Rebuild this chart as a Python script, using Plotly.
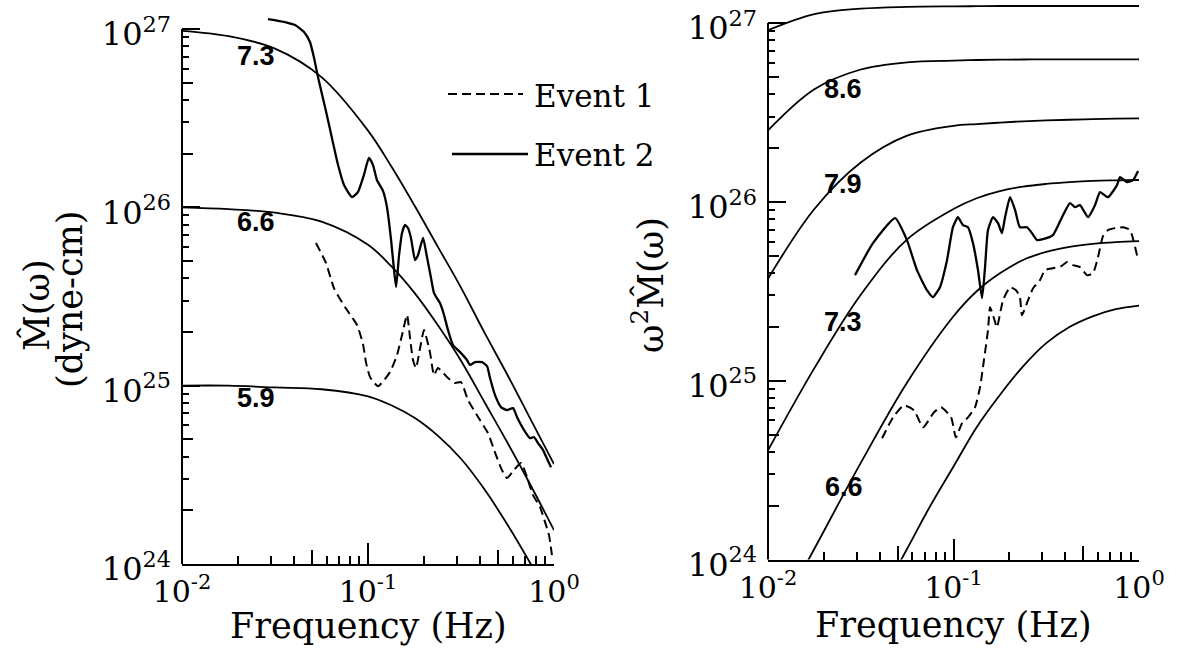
import numpy as np
import plotly.graph_objects as go

W, H = 1182, 649

# ------------------------------------------------------------------
# Data: log10 frequency (Hz) and log10 spectral level
# ------------------------------------------------------------------
grid = [-2.0, -1.75, -1.5, -1.25, -1.0, -0.875, -0.75, -0.625, -0.5, -0.375, -0.25, -0.125, 0.0]

# Left panel: model moment spectra M(w) in dyne-cm, one per magnitude
left_model_labels = ["7.3", "6.6", "5.9"]
left_m73 = [26.99, 26.96, 26.89, 26.73, 26.43, 26.23, 26.01, 25.78, 25.55, 25.30, 25.06, 24.81, 24.56]
left_m66 = [26.00, 25.99, 25.97, 25.92, 25.79, 25.67, 25.52, 25.34, 25.14, 24.91, 24.68, 24.44, 24.19]
left_m59 = [25.00, 25.00, 24.99, 24.98, 24.94, 24.89, 24.82, 24.72, 24.59, 24.42, 24.22, 24.00, 23.77]

# Left panel: observed moment spectra
ev1_left_logf = [-1.280, -1.226, -1.183, -1.124, -1.059, -1.027, -1.011, -0.989, -0.946, -0.882,
                 -0.844, -0.817, -0.790, -0.774, -0.758, -0.742, -0.720, -0.699, -0.667, -0.645,
                 -0.624, -0.570, -0.532, -0.500, -0.462, -0.398, -0.355, -0.312, -0.280, -0.253,
                 -0.215, -0.177, -0.145, -0.113, -0.075, -0.043, -0.027, -0.011]
ev1_left_logm = [25.800, 25.688, 25.547, 25.441, 25.340, 25.233, 25.132, 25.048, 24.997, 25.076,
                 25.172, 25.284, 25.396, 25.267, 25.144, 25.099, 25.211, 25.312, 25.188, 25.059,
                 25.099, 25.043, 25.015, 25.020, 24.919, 24.807, 24.734, 24.611, 24.527, 24.482,
                 24.527, 24.566, 24.487, 24.386, 24.319, 24.218, 24.162, 24.050]

ev2_left_logf = [-1.538, -1.446, -1.392, -1.344, -1.312, -1.290, -1.269, -1.231, -1.188, -1.161,
                 -1.129, -1.086, -1.054, -1.022, -0.995, -0.973, -0.952, -0.919, -0.898, -0.876,
                 -0.860, -0.849, -0.833, -0.817, -0.801, -0.785, -0.769, -0.747, -0.731, -0.704,
                 -0.683, -0.661, -0.645, -0.613, -0.591, -0.570, -0.543, -0.505, -0.468, -0.452,
                 -0.425, -0.387, -0.360, -0.344, -0.317, -0.285, -0.253, -0.220, -0.199, -0.161,
                 -0.129, -0.108, -0.086, -0.059, -0.027, -0.016]
ev2_left_logm = [27.056, 27.039, 27.022, 26.983, 26.927, 26.837, 26.731, 26.563, 26.361, 26.237,
                 26.125, 26.058, 26.086, 26.181, 26.277, 26.237, 26.153, 26.091, 26.001, 25.817,
                 25.648, 25.553, 25.732, 25.856, 25.901, 25.884, 25.828, 25.704, 25.732, 25.828,
                 25.721, 25.603, 25.519, 25.463, 25.396, 25.312, 25.228, 25.188, 25.144, 25.116,
                 25.132, 25.132, 25.110, 25.043, 24.947, 24.880, 24.863, 24.874, 24.824, 24.751,
                 24.706, 24.712, 24.678, 24.639, 24.566, 24.543]

# Right panel: model spectra w^2 M(w)
right_model_labels = ["8.6", "7.9", "7.3", "6.6"]
right_top = [26.96, 27.05, 27.08, 27.09, 27.093, 27.094, 27.095, 27.095, 27.095, 27.095, 27.095, 27.095, 27.095]
right_m86 = [26.40, 26.63, 26.74, 26.78, 26.79, 26.793, 26.795, 26.796, 26.797, 26.797, 26.797, 26.797, 26.797]
right_m79 = [25.57, 25.96, 26.22, 26.37, 26.425, 26.435, 26.443, 26.45, 26.455, 26.459, 26.462, 26.465, 26.467]
right_m73 = [24.61, 25.07, 25.48, 25.79, 25.96, 26.02, 26.06, 26.085, 26.10, 26.11, 26.117, 26.12, 26.122]
right_m66_logf = [-1.875, -1.75, -1.5, -1.25, -1.0, -0.875, -0.75, -0.625, -0.5, -0.375, -0.25, -0.125, 0.0]
right_m66 = [23.82, 24.06, 24.54, 24.99, 25.36, 25.50, 25.60, 25.675, 25.72, 25.748, 25.765, 25.775, 25.78]
right_m59_logf = [-1.375, -1.25, -1.125, -1.0, -0.875, -0.75, -0.625, -0.5, -0.375, -0.25, -0.125, 0.0]
right_m59 = [23.82, 24.06, 24.30, 24.52, 24.74, 24.92, 25.08, 25.21, 25.30, 25.36, 25.40, 25.42]

# Right panel: observed spectra
ev1_right_logf = [-1.385, -1.326, -1.267, -1.213, -1.164, -1.105, -1.067, -1.013, -0.987, -0.954,
                  -0.922, -0.884, -0.857, -0.836, -0.814, -0.803, -0.782, -0.766, -0.733, -0.695,
                  -0.663, -0.642, -0.631, -0.598, -0.571, -0.534, -0.507, -0.464, -0.420, -0.388,
                  -0.356, -0.318, -0.280, -0.248, -0.221, -0.194, -0.167, -0.129, -0.085, -0.048,
                  -0.021, -0.005]
ev1_right_logm = [24.678, 24.795, 24.862, 24.834, 24.739, 24.823, 24.851, 24.795, 24.683, 24.762,
                  24.795, 24.851, 24.963, 25.114, 25.282, 25.411, 25.349, 25.299, 25.450, 25.523,
                  25.506, 25.467, 25.366, 25.450, 25.517, 25.562, 25.618, 25.629, 25.640, 25.663,
                  25.646, 25.635, 25.590, 25.601, 25.691, 25.808, 25.842, 25.853, 25.858, 25.842,
                  25.747, 25.674]

ev2_right_logf = [-1.531, -1.434, -1.315, -1.251, -1.197, -1.143, -1.111, -1.073, -1.035, -1.003,
                  -0.976, -0.949, -0.922, -0.895, -0.868, -0.846, -0.830, -0.814, -0.787, -0.760,
                  -0.739, -0.722, -0.695, -0.668, -0.642, -0.604, -0.577, -0.550, -0.518, -0.464,
                  -0.415, -0.372, -0.345, -0.318, -0.275, -0.237, -0.210, -0.167, -0.119, -0.102,
                  -0.065, -0.032, -0.005]
ev2_right_logm = [25.590, 25.769, 25.909, 25.786, 25.618, 25.506, 25.467, 25.523, 25.674, 25.858,
                  25.914, 25.870, 25.858, 25.769, 25.618, 25.461, 25.635, 25.842, 25.914, 25.881,
                  25.825, 25.914, 26.026, 25.954, 25.858, 25.858, 25.825, 25.786, 25.791, 25.814,
                  25.914, 25.993, 25.970, 25.982, 25.914, 25.982, 26.054, 26.026, 26.093, 26.138,
                  26.110, 26.121, 26.172]

legend_names = ["Event 1", "Event 2"]

x_tick_vals = [0.01, 0.1, 1.0]
x_tick_text = ["10<sup>-2</sup>", "10<sup>-1</sup>", "10<sup>0</sup>"]
y_tick_vals = [1e24, 1e25, 1e26, 1e27]
y_tick_text = ["10<sup>24</sup>", "10<sup>25</sup>", "10<sup>26</sup>", "10<sup>27</sup>"]

# ------------------------------------------------------------------
# Styling / geometry (pixels on a 1182 x 649 page)
# ------------------------------------------------------------------
SERIF = "DejaVu Serif"
SANS = "Liberation Sans"
INK = "black"
MODEL_W = 1.8
DATA_W = 2.3
DASH = "9px,5px"

L_X0, L_X1, L_YBOT, L_Y27 = 182, 554, 564, 29
R_X0, R_X1, R_YBOT, R_Y27 = 768, 1139, 559.5, 23

l_ytop = 27 + L_Y27 / ((L_YBOT - L_Y27) / 3.0)
r_ytop = 27 + R_Y27 / ((R_YBOT - R_Y27) / 3.0)


def p(v):
    return 10 ** np.asarray(v, dtype=float)


fig = go.Figure()


def add_line(logf, logm, xa, ya, width, dash=None, smooth=1.0):
    fig.add_trace(go.Scatter(
        x=p(logf), y=p(logm), mode="lines", xaxis=xa, yaxis=ya,
        line=dict(color=INK, width=width, dash=dash, shape="spline", smoothing=smooth),
        showlegend=False, hoverinfo="skip"))


# left panel
for vals in (left_m73, left_m66, left_m59):
    add_line(grid, vals, "x", "y", MODEL_W)
add_line(ev1_left_logf, ev1_left_logm, "x", "y", DATA_W - 0.3, DASH, 0.5)
add_line(ev2_left_logf, ev2_left_logm, "x", "y", DATA_W, None, 0.5)

# right panel
for vals in (right_top, right_m86, right_m79, right_m73):
    add_line(grid, vals, "x2", "y2", MODEL_W)
add_line(right_m66_logf, right_m66, "x2", "y2", MODEL_W)
add_line(right_m59_logf, right_m59, "x2", "y2", MODEL_W)
add_line(ev1_right_logf, ev1_right_logm, "x2", "y2", DATA_W - 0.3, DASH, 0.5)
add_line(ev2_right_logf, ev2_right_logm, "x2", "y2", DATA_W, None, 0.5)

# empty traces so the overlay tick axes get drawn
fig.add_trace(go.Scatter(x=[], y=[], xaxis="x3", yaxis="y3", showlegend=False))
fig.add_trace(go.Scatter(x=[], y=[], xaxis="x4", yaxis="y4", showlegend=False))

minor_x = [k * 10.0 ** e for e in (-2, -1) for k in range(2, 10)]
minor_y = [k * 10.0 ** e for e in (24, 25, 26) for k in range(2, 10)]
mid_x = [0.05, 0.5]
mid_y = [k * 10.0 ** e for e in (24, 25, 26) for k in (2, 5)]

xtickfont = dict(family=SERIF, size=30, color=INK)
ytickfont = dict(family=SERIF, size=32, color=INK)


def xaxis(x0, x1, anchor):
    return dict(type="log", range=[-2, 0], domain=[x0 / W, x1 / W], anchor=anchor,
                showline=True, linecolor=INK, linewidth=2, mirror=False,
                ticks="inside", ticklen=21, tickwidth=2, tickcolor=INK,
                tickvals=x_tick_vals, ticktext=x_tick_text, tickfont=xtickfont,
                ticklabelstandoff=0, automargin=False,
                showgrid=False, zeroline=False,
                minor=dict(tickvals=minor_x, ticks="inside", ticklen=8, tickwidth=1.5,
                           tickcolor=INK, showgrid=False))


def yaxis(ybot, ytop, anchor):
    return dict(type="log", range=[24, ytop], domain=[1 - ybot / H, 1], anchor=anchor,
                showline=False, ticks="inside", ticklen=18, tickwidth=2, tickcolor=INK,
                tickvals=y_tick_vals, ticktext=y_tick_text, tickfont=ytickfont,
                ticklabelstandoff=10, ticklabelshift=5, automargin=False,
                showgrid=False, zeroline=False,
                minor=dict(tickvals=minor_y, ticks="inside", ticklen=7, tickwidth=1.5,
                           tickcolor=INK, showgrid=False))


def overlay_x(base, rng_anchor):
    return dict(type="log", range=[-2, 0], overlaying=base, anchor=rng_anchor,
                side="bottom", showline=False, ticks="inside", ticklen=14, tickwidth=1.5,
                tickcolor=INK, tickvals=mid_x, showticklabels=False, automargin=False,
                showgrid=False, zeroline=False)


def overlay_y(base, ytop, rng_anchor):
    return dict(type="log", range=[24, ytop], overlaying=base, anchor=rng_anchor,
                side="left", showline=False, ticks="inside", ticklen=11, tickwidth=1.5,
                tickcolor=INK, tickvals=mid_y, showticklabels=False, automargin=False,
                showgrid=False, zeroline=False)


fig.update_layout(
    width=W, height=H,
    margin=dict(l=0, r=0, t=0, b=0, pad=0, autoexpand=False),
    paper_bgcolor="white", plot_bgcolor="white", showlegend=False,
    xaxis=xaxis(L_X0, L_X1, "y"),
    yaxis=yaxis(L_YBOT, l_ytop, "x"),
    xaxis2=xaxis(R_X0, R_X1, "y2"),
    yaxis2=yaxis(R_YBOT, r_ytop, "x2"),
    xaxis3=overlay_x("x", "y3"),
    yaxis3=overlay_y("y", l_ytop, "x3"),
    xaxis4=overlay_x("x2", "y4"),
    yaxis4=overlay_y("y2", r_ytop, "x4"),
)

# y axis lines run from 10^24 up to 10^27 only
shapes = []
for xa, ytop in (("x", l_ytop), ("x2", r_ytop)):
    ya = "y" if xa == "x" else "y2"
    shapes.append(dict(type="line", xref=f"{xa} domain", yref=f"{ya} domain",
                       x0=0, x1=0, y0=0, y1=(27 - 24) / (ytop - 24),
                       line=dict(color=INK, width=2)))

# legend keys
shapes.append(dict(type="line", xref="paper", yref="paper",
                   x0=448 / W, x1=523 / W, y0=1 - 94 / H, y1=1 - 94 / H,
                   line=dict(color=INK, width=DATA_W - 0.3, dash=DASH)))
shapes.append(dict(type="line", xref="paper", yref="paper",
                   x0=452 / W, x1=528 / W, y0=1 - 154 / H, y1=1 - 154 / H,
                   line=dict(color=INK, width=DATA_W)))
fig.update_layout(shapes=shapes)

ann = []
lab_font = dict(family=SANS, size=27, color=INK)
for text, (lx, ly) in zip(left_model_labels, [(-1.60, 26.85), (-1.60, 25.918), (-1.60, 24.93)]):
    ann.append(dict(text=f"<b>{text}</b>", x=lx, y=ly, xref="x", yref="y",
                    showarrow=False, font=lab_font, xanchor="center", yanchor="middle"))
for text, (lx, ly) in zip(right_model_labels,
                          [(-1.596, 26.631), (-1.596, 26.10), (-1.596, 25.328), (-1.590, 24.405)]):
    ann.append(dict(text=f"<b>{text}</b>", x=lx, y=ly, xref="x2", yref="y2",
                    showarrow=False, font=lab_font, xanchor="center", yanchor="middle"))

title_font = dict(family=SERIF, size=35, color=INK)
side_font = dict(family=SERIF, size=35, color=INK)
ann.append(dict(text="Frequency (Hz)", x=(L_X0 + L_X1) / 2 / W, y=1 - 626 / H,
                xref="paper", yref="paper", showarrow=False, font=title_font,
                xanchor="center", yanchor="middle"))
ann.append(dict(text="Frequency (Hz)", x=(R_X0 + R_X1) / 2 / W, y=1 - 625 / H,
                xref="paper", yref="paper", showarrow=False, font=title_font,
                xanchor="center", yanchor="middle"))
ann.append(dict(text="M\u0302(\u03c9)", x=36 / W, y=1 - 305 / H, xref="paper", yref="paper",
                showarrow=False, font=side_font, textangle=-90,
                xanchor="center", yanchor="middle"))
ann.append(dict(text="(dyne-cm)", x=70 / W, y=1 - 300 / H, xref="paper", yref="paper",
                showarrow=False, font=side_font, textangle=-90,
                xanchor="center", yanchor="middle"))
ann.append(dict(text="\u03c9<sup>2</sup>M\u0302(\u03c9)", x=648 / W, y=1 - 285 / H,
                xref="paper", yref="paper", showarrow=False, font=side_font, textangle=-90,
                xanchor="center", yanchor="middle"))

leg_font = dict(family=SERIF, size=31, color=INK)
for name, ypx in zip(legend_names, (96, 155)):
    ann.append(dict(text=name, x=532 / W, y=1 - ypx / H, xref="paper", yref="paper",
                    showarrow=False, font=leg_font, xanchor="left", yanchor="middle"))
fig.update_layout(annotations=ann)

fig.write_html("out.html")
